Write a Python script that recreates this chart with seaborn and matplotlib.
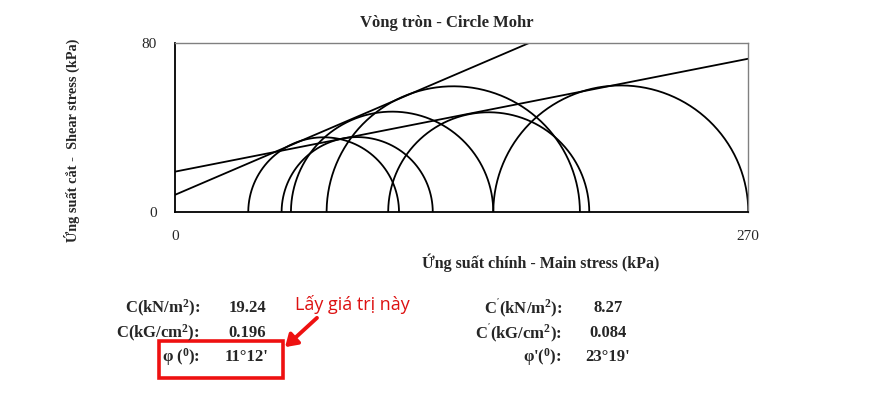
import numpy as np
import pandas as pd
import matplotlib
matplotlib.use("Agg")
import matplotlib.pyplot as plt
from matplotlib.patches import Rectangle, FancyArrowPatch
import seaborn as sns

# ---- data ----
sigma3_total = [50.2, 100.4, 149.9]
sigma1_total = [121.4, 195.1, 270.0]
sigma3_eff = [34.5, 54.6, 71.4]
sigma1_eff = [105.5, 149.9, 190.7]

c_total = 19.24          # kPa
phi_total_deg = 11 + 12 / 60
c_eff = 8.27             # kPa
phi_eff_deg = 23 + 19 / 60

x_ticks = [0, 270]
y_ticks = [0, 80]

title = "Vòng tròn - Circle Mohr"
xlabel = "Ứng suất chính - Main stress (kPa)"
ylabel = "Ứng suất cắt -  Shear stress (kPa)"

left_labels = [r"C(kN/m$^{2}$):", r"C(kG/cm$^{2}$):", r"φ ($^{0}$):"]
left_values = ["19.24", "0.196", "11°12'"]
right_labels = [r"C$^{'}$(kN/m$^{2}$):", r"C$^{'}$(kG/cm$^{2}$):", r"φ'($^{0}$):"]
right_values = ["8.27", "0.084", "23°19'"]
note = "Lấy giá trị này"

# ---- style ----
sns.set_style("white")
plt.rcParams["font.family"] = ["Liberation Serif", "DejaVu Serif"]
plt.rcParams["mathtext.fontset"] = "custom"
plt.rcParams["mathtext.rm"] = "Liberation Serif:bold"
plt.rcParams["mathtext.it"] = "Liberation Serif:bold"
plt.rcParams["mathtext.bf"] = "Liberation Serif:bold"

W, H = 888, 399
fig = plt.figure(figsize=(W / 100, H / 100), dpi=100)
ax = fig.add_axes([175 / W, 1 - 212.3 / H, (748.3 - 175) / W, (212.3 - 43.3) / H])

# semicircles
rows = []
theta = np.linspace(0, np.pi, 200)
circles = list(zip(sigma3_total, sigma1_total)) + list(zip(sigma3_eff, sigma1_eff))
for i, (s3, s1) in enumerate(circles):
    cx = (s1 + s3) / 2
    r = (s1 - s3) / 2
    rows.append(pd.DataFrame({"x": cx + r * np.cos(theta), "y": r * np.sin(theta), "c": i}))
df = pd.concat(rows, ignore_index=True)
sns.lineplot(data=df, x="x", y="y", units="c", estimator=None, sort=False,
             color="black", lw=1.3, ax=ax)

# envelopes
xs = np.array([0.0, 270.0])
for c, phi in [(c_total, phi_total_deg), (c_eff, phi_eff_deg)]:
    sns.lineplot(x=xs, y=c + np.tan(np.radians(phi)) * xs, color="black", lw=1.3, ax=ax)

ax.set_xlim(0, 270)
ax.set_ylim(0, 80)
ax.set_xticks(x_ticks)
ax.set_yticks(y_ticks)
ax.set_xlabel("")
ax.set_ylabel("")
ax.tick_params(axis="both", direction="out", length=5, width=1, color="#808080",
               labelsize=11)
ax.tick_params(axis="y", pad=8)
ax.tick_params(axis="x", pad=8)
for s in ["top", "right"]:
    ax.spines[s].set_color("#808080")
    ax.spines[s].set_linewidth(1)
for s in ["left", "bottom"]:
    ax.spines[s].set_color("black")
    ax.spines[s].set_linewidth(1.3)

def fx(px):
    return px / W

def fy(py):
    return 1 - py / H

fig.text(fx(447), fy(23), title, ha="center", va="center", fontsize=12, fontweight="bold")
fig.text(fx(541), fy(263), xlabel, ha="center", va="center", fontsize=11.5, fontweight="bold")
fig.text(fx(72), fy(140), ylabel, ha="center", va="center", rotation=90, fontsize=10.3,
         fontweight="bold")

ys = [308, 333, 357]
for lab, val, y in zip(left_labels, left_values, ys):
    fig.text(fx(200), fy(y), lab, ha="right", va="center", fontsize=12, fontweight="bold")
    fig.text(fx(247), fy(y), val, ha="center", va="center", fontsize=12, fontweight="bold")
for lab, val, y in zip(right_labels, right_values, ys):
    fig.text(fx(562), fy(y), lab, ha="right", va="center", fontsize=12, fontweight="bold")
    fig.text(fx(608), fy(y), val, ha="center", va="center", fontsize=12, fontweight="bold")

# red annotation
fig.add_artist(Rectangle((fx(159), fy(378)), (283 - 159) / W, (378 - 341) / H,
                         transform=fig.transFigure, fill=False, edgecolor="#ee1111", lw=2.6))
fig.text(fx(352), fy(305), note, ha="center", va="center", fontsize=13, color="#dd1111",
         family=["Open Sans", "DejaVu Sans"])
fig.add_artist(FancyArrowPatch(
    (fx(319), fy(316)), (fx(283), fy(349)), transform=fig.transFigure,
    arrowstyle="-|>,head_length=7,head_width=4.5", color="#ee1111", lw=2.8))

fig.savefig("out.png", dpi=100, facecolor="white")
